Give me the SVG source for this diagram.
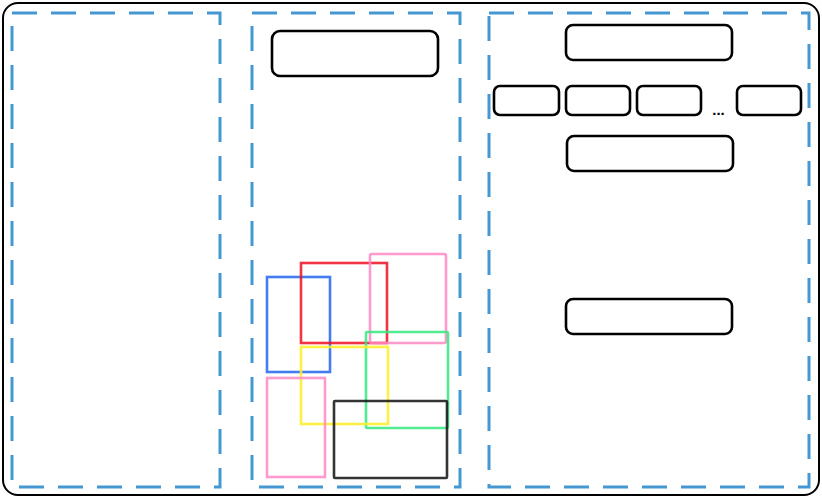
<svg xmlns="http://www.w3.org/2000/svg" width="822" height="498" viewBox="0 0 822 498">
<style>
.frame{fill:#fff;stroke:#000;stroke-width:2}
.panel{fill:none;stroke:#4597d2;stroke-width:3;stroke-dasharray:25 14}
.node{fill:#fff;stroke:#000;stroke-width:2.6}
.hl{fill:none;stroke-width:2.6;opacity:0.85}
.t{font-family:"Liberation Sans",Arial,sans-serif;font-size:15px;font-weight:bold;fill:#000}
</style>
<rect width="822" height="498" fill="#fff"/>
<rect class="frame" x="3" y="3" width="816" height="492" rx="15"/>
<g id="panels">
<rect id="panel-left" class="panel" x="12" y="13" width="208" height="474"/>
<rect id="panel-mid" class="panel" x="252" y="13" width="208" height="474"/>
<rect id="panel-right" class="panel" x="489" y="13" width="320" height="474"/>
</g>
<g id="node-mid-top"><rect class="node" x="272" y="31" width="166" height="45" rx="8"/></g>
<g id="node-r1"><rect class="node" x="566" y="25" width="166" height="35" rx="7"/></g>
<g id="node-r2a"><rect class="node" x="494" y="86" width="65" height="29" rx="6"/></g>
<g id="node-r2b"><rect class="node" x="566" y="86" width="64" height="29" rx="6"/></g>
<g id="node-r2c"><rect class="node" x="637" y="86" width="64" height="29" rx="6"/></g>
<g id="node-r2d"><rect class="node" x="737" y="86" width="64" height="29" rx="6"/></g>
<text class="t" x="718.5" y="115" text-anchor="middle">...</text>
<g id="node-r3"><rect class="node" x="567" y="136" width="166" height="35" rx="7"/></g>
<g id="node-r4"><rect class="node" x="566" y="299" width="166" height="35" rx="7"/></g>
<g id="highlights">
<rect class="hl" x="267" y="277" width="63" height="95" stroke="#2266ee"/>
<rect class="hl" x="301" y="263" width="86" height="80" stroke="#ee1122"/>
<rect class="hl" x="370" y="254" width="76" height="89" rx="2" stroke="#ff88c4"/>
<rect class="hl" x="366" y="332" width="82" height="96" rx="1" stroke="#33e87f"/>
<rect class="hl" x="301" y="347" width="87" height="77" stroke="#ffee22"/>
<rect class="hl" x="267" y="378" width="58" height="99" stroke="#ff88c4"/>
<rect class="hl" x="334" y="401" width="113" height="77" rx="1" stroke="#111"/>
</g>
<g id="connectors"></g>
</svg>
